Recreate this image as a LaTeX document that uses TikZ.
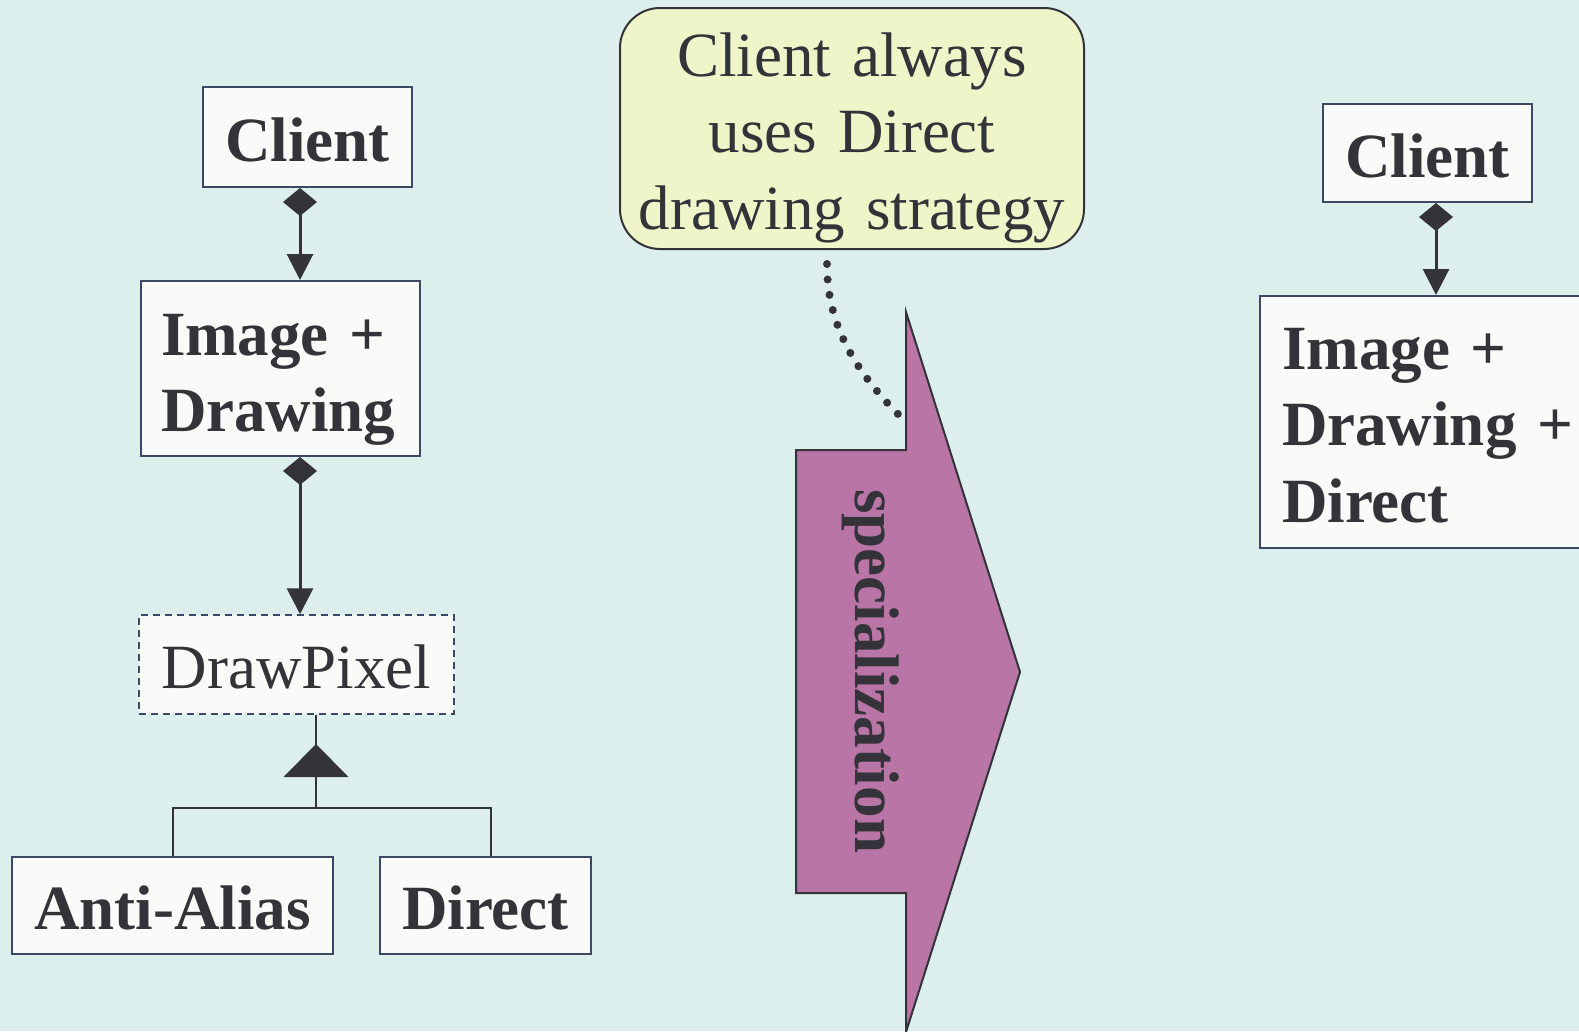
\documentclass[tikz,border=0pt]{standalone}
\usepackage{fontspec}
\setmainfont{Liberation Serif}
\usetikzlibrary{arrows.meta,calc}
\definecolor{bg}{HTML}{DDEFEC}
\definecolor{boxfill}{HTML}{FAFAF8}
\definecolor{edge}{HTML}{3B4866}
\definecolor{ink}{HTML}{333339}
\definecolor{notefill}{HTML}{EFF4C9}
\definecolor{specfill}{HTML}{B875A6}
\begin{document}
\begin{tikzpicture}[x=1pt,y=-1pt,
  every node/.style={text=ink, font=\fontsize{63}{76.5}\selectfont},
  box/.style={draw=edge, fill=boxfill, line width=2pt, inner sep=0pt, text height=48pt, text depth=0pt},
  boldbox/.style={box, font=\fontsize{63}{76.5}\selectfont\bfseries},
  comp/.style={draw=ink, line width=3pt, {Diamond[length=28pt,width=34pt]}-{Triangle[length=26pt,width=26pt]}},
  inh/.style={draw=ink, line width=2pt},
  dots/.style={draw=ink, line width=8pt, line cap=round, dash pattern=on 0pt off 15.5pt},
]
\useasboundingbox (0,0) rectangle (1579,1031);
\fill[bg] (0,0) rectangle (1579,1031);

% left column
\node[boldbox, minimum width=209pt, minimum height=100pt] (cl) at (307.5,137) {Client};
\node[boldbox, anchor=north west, text width=239pt, inner xsep=20pt, inner ysep=0pt, align=left, text height=74pt, text depth=101pt] (img) at (140,280) {Image +\\Drawing};
\node[box, line width=1.5pt, dash pattern=on 7pt off 5pt, minimum width=315pt, minimum height=99pt] (dp) at (296.5,664.5) {DrawPixel};
\node[boldbox, minimum width=321pt, minimum height=97pt] (aa) at (172.5,905.5) {Anti-Alias};
\node[boldbox, minimum width=211pt, minimum height=97pt] (dr) at (485.5,905.5) {Direct};

\coordinate (cx) at (300,0);
\draw[comp] (cl.south -| cx) -- (img.north -| cx);
\draw[comp] (img.south -| cx) -- (dp.north -| cx);

\coordinate (jn) at (316,808);
\draw[inh] (dp.south -| jn) -- (jn);
\fill[ink] (316,744) -- (348.5,777) -- (283.5,777) -- cycle;
\draw[inh] (aa.north) -- (aa.north |- jn) -- ([xshift=5.5pt]dr.north |- jn) -- ([xshift=5.5pt]dr.north);

% note
\node[draw=ink, fill=notefill, line width=2pt, rounded corners=40pt, anchor=north, text width=440pt, align=center, inner xsep=12pt, inner ysep=0pt, text height=68pt, text depth=173pt] (note) at (852,7) {Client always\\uses Direct\\drawing strategy};

% specialization arrow
\filldraw[fill=specfill, draw=ink, line width=2pt] (906,312) -- (1020,672) -- (906,1032) -- (906,893) -- (796,893) -- (796,450) -- (906,450) -- cycle;
\node[rotate=-90, font=\fontsize{63}{76.5}\selectfont\bfseries] (spec) at (871,671) {specialization};
\coordinate (dend) at (906,422);
\draw[dots] ([xshift=-25pt,yshift=-14pt]note.south) .. controls (827,320) and (850,368) .. (dend);

% right column
\node[boldbox, minimum width=209pt, minimum height=98pt] (cr) at (1427.5,153) {Client};
\node[boldbox, anchor=north west, text width=300pt, inner xsep=22pt, inner ysep=0pt, align=left, text height=73pt, text depth=179pt] (imr) at (1259,295) {Image +\\Drawing +\\Direct};
\coordinate (rx) at (1436,0);
\draw[comp] (cr.south -| rx) -- (imr.north -| rx);
\end{tikzpicture}
\end{document}
